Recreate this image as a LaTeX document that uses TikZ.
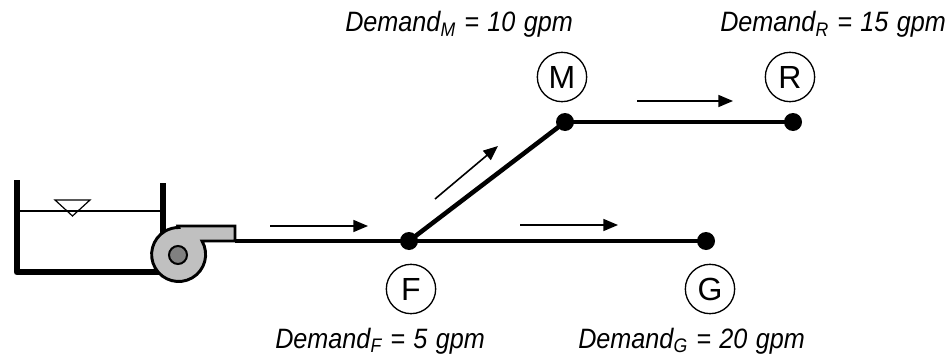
\documentclass[tikz,border=0pt]{standalone}
\usepackage{fontspec}
\usepackage{tikz}
\usetikzlibrary{arrows.meta}
\setmainfont{Liberation Sans}
\newfontfamily\narrowfont[FakeStretch=0.9,WordSpace=1.2]{Liberation Sans}

\tikzset{
  pipe/.style={line width=3.4pt},
  junction/.style={circle,fill=black,inner sep=0pt,minimum size=13.5pt},
  nodelabel/.style={circle,draw,line width=1pt,inner sep=0pt,minimum size=37pt,font=\fontsize{24}{28}\selectfont},
  flow/.style={line width=1.2pt,-{Triangle[length=11pt,width=9pt]}},
  demand/.style={anchor=base west,inner sep=0pt,font=\narrowfont\itshape\fontsize{21}{25}\selectfont}
}

\begin{document}
\begin{tikzpicture}[x=0.75pt,y=0.75pt,yscale=-1,xscale=1]
  \useasboundingbox (0,0) rectangle (945,360);

  %Shape: Tank
  \draw [line width=5pt,line join=round]  (17,180) -- (17,272) -- (168,272) ;
  \draw [line width=5pt]  (163,183) -- (163,234) ;
  %Straight Lines: water surface
  \draw [line width=0.9pt]  (20,211) -- (161,211) ;
  \draw [line width=0.9pt]  (55,200) -- (90,200) -- (72.5,216) -- cycle ;

  %Junctions
  \node [junction] (F) at (409,241) {};
  \node [junction] (G) at (706,241) {};
  \node [junction] (M) at (565,122) {};
  \node [junction] (R) at (793,122) {};
  \coordinate (out) at (235,241);

  %Pipes
  \draw [pipe]  (out) -- (F.center) ;
  \draw [pipe]  (F.center) -- (G.center) ;
  \draw [pipe]  (F.center) -- (M.center) ;
  \draw [pipe]  (M.center) -- (R.center) ;

  %Shape: Pump
  \draw [line width=2.2pt,fill={rgb, 255:red, 192; green, 192; blue, 192 }]  (178,226) -- (235,226) -- (235,241) -- (202,241) arc [start angle=-30,end angle=270,radius=27] -- cycle ;
  \draw [line width=1.5pt,fill={rgb, 255:red, 128; green, 128; blue, 128 }]  (178,255) circle [radius=9] ;

  %Flow arrows
  \coordinate (a1) at (270,226);  \coordinate (b1) at (368,226);
  \coordinate (a2) at (520,225);  \coordinate (b2) at (618,225);
  \coordinate (a3) at (435,199);  \coordinate (b3) at (498,146);
  \coordinate (a4) at (637,101);  \coordinate (b4) at (733,101);
  \draw [flow]  (a1) -- (b1) ;
  \draw [flow]  (a2) -- (b2) ;
  \draw [flow]  (a3) -- (b3) ;
  \draw [flow]  (a4) -- (b4) ;

  % Node labels
  \node [nodelabel] (lF) at (411,289) {F};
  \node [nodelabel] (lG) at (710,289) {G};
  \node [nodelabel] (lM) at (562,77) {M};
  \node [nodelabel] (lR) at (790,77) {R};

  % Text Node
  \node [demand] (dM) at (345,32) {Demand\textsubscript{M} = 10 gpm};
  % Text Node
  \node [demand] (dR) at (720,32) {Demand\textsubscript{R} = 15 gpm};
  % Text Node
  \node [demand] (dF) at (275,348) {Demand\textsubscript{F} = 5 gpm};
  % Text Node
  \node [demand] (dG) at (578,348) {Demand\textsubscript{G} = 20 gpm};

\end{tikzpicture}
\end{document}
